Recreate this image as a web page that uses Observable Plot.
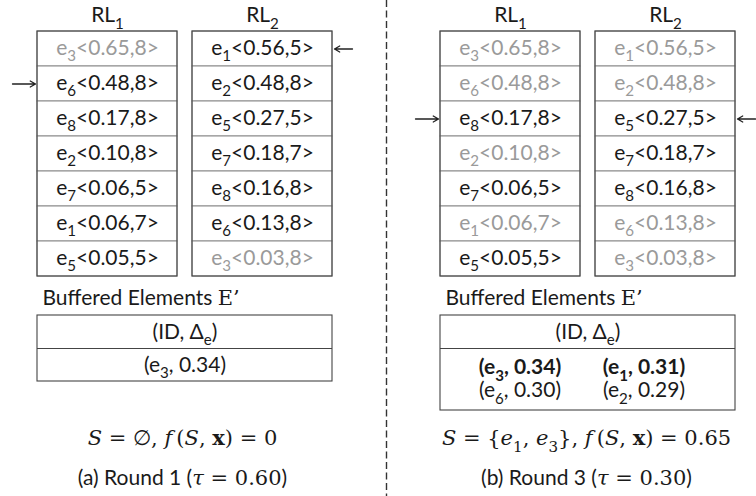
<!DOCTYPE html>
<html><head><meta charset="utf-8">
<script src="https://cdn.jsdelivr.net/npm/d3@7"></script>
<script src="https://cdn.jsdelivr.net/npm/@observablehq/plot@0.6"></script>
<style>body{margin:0;background:#fff}</style>
</head><body><div id="chart"></div>
<script>
// ---------- data ----------
const listNames = ["RL", "RL"];
const listSubs = ["1", "2"];
const rl1Ids = [3, 6, 8, 2, 7, 1, 5];
const rl1Scores = [0.65, 0.48, 0.17, 0.10, 0.06, 0.06, 0.05];
const rl1Attrs = [8, 8, 8, 8, 5, 7, 5];
const rl2Ids = [1, 2, 5, 7, 8, 6, 3];
const rl2Scores = [0.56, 0.48, 0.27, 0.18, 0.16, 0.13, 0.03];
const rl2Attrs = [5, 8, 5, 7, 8, 8, 8];
const roundLabels = ["(a) Round 1", "(b) Round 3"];
const taus = [0.60, 0.30];
const pointerRL1 = [1, 2];
const pointerRL2 = [0, 2];
const bufferIds = [[3], [3, 1, 6, 2]];
const bufferDeltas = [[0.34], [0.34, 0.31, 0.30, 0.29]];
const selectedIds = [[], [1, 3]];
const objectiveValues = [0, 0.65];
const bufferTitle = "Buffered Elements [m|E’]";
const bufferHeader = "(ID, Δ[s|e])";

// ---------- layout ----------
const W = 756, H = 496;
const panelOffset = [0, 403];
const colLeft = [37, 192], colW = 140;
const rowTop = 31, rowH = 35;
const headY = 15, divX = 386;
const titleY = 298, tableTop = 315, headH = 33;
const formulaY = 438, captionY = 478;
const panelCenter = [182, 586];
const f2 = d3.format(".2f");
const FONT = "Lato", MATH = "DejaVu Serif";
const FS = 21;
const GRAY = "#9a9a9a", INK = "#1a1a1a";

const lists = [
  {ids: rl1Ids, scores: rl1Scores, attrs: rl1Attrs, ptr: pointerRL1},
  {ids: rl2Ids, scores: rl2Scores, attrs: rl2Attrs, ptr: pointerRL2}
];

const cells = [], frames = [], heads = [], arrows = [];
roundLabels.forEach((_, ri) => {
  lists.forEach((L, li) => {
    const x1 = panelOffset[ri] + colLeft[li], x2 = x1 + colW;
    L.ids.forEach((id, k) => cells.push({
      x1, x2, y1: rowTop + k * rowH, y2: rowTop + (k + 1) * rowH,
      label: `e[s|${id}]<${f2(L.scores[k])},${L.attrs[k]}>`,
      gray: bufferIds[ri].includes(id)
    }));
    frames.push({x1, x2, y1: rowTop, y2: rowTop + L.ids.length * rowH});
    heads.push({x: (x1 + x2) / 2, label: `${listNames[li]}[s|${listSubs[li]}]`});
    const yc = rowTop + (L.ptr[ri] + 0.5) * rowH;
    if (li === 0) arrows.push({x1: x1 - 25, x2: x1 - 2, y: yc});
    else arrows.push({x1: x2 + 20, x2: x2 + 2, y: yc});
  });
});

// buffer tables
const tables = [], tableRules = [], bufItems = [], titles = [], formulas = [], captions = [];
roundLabels.forEach((lab, ri) => {
  const x1 = panelOffset[ri] + colLeft[0], x2 = panelOffset[ri] + colLeft[1] + colW;
  const n = bufferIds[ri].length;
  const rows = Math.ceil(n / 2);
  const y2 = rows === 1 ? tableTop + headH * 2 : tableTop + headH + 14 + rows * 24;
  tables.push({x1, x2, y1: tableTop, y2});
  tableRules.push({x1, x2, y: tableTop + headH});
  titles.push({x: x1 + 5, y: titleY, label: bufferTitle});
  bufItems.push({x: (x1 + x2) / 2, y: tableTop + headH / 2, label: bufferHeader, bold: false});
  bufferIds[ri].forEach((id, k) => {
    const row = Math.floor(k / 2), col = k % 2;
    const x = n === 1 ? (x1 + x2) / 2 : (x1 + x2) / 2 + (col === 0 ? -68 : 56);
    const y = n === 1 ? tableTop + headH * 1.5 : tableTop + headH + 7 + 12 + row * 23;
    bufItems.push({x, y, label: `(e[s|${id}], ${f2(bufferDeltas[ri][k])})`, bold: selectedIds[ri].includes(id)});
  });
  const S = selectedIds[ri].length === 0 ? "∅" :
    "{" + selectedIds[ri].map(id => `[i|e][s|${id}]`).join(", ") + "}";
  formulas.push({x: panelCenter[ri], y: formulaY,
    label: `[i|S] = ${S}, [i|f]\u2009([i|S], [b|x]) = ${objectiveValues[ri]}`});
  captions.push({x: panelCenter[ri], y: captionY,
    label: `${lab} ([mi|τ][m| = ${f2(taus[ri])}])`});
});

const plot = Plot.plot({
  width: W, height: H,
  margin: 0,
  x: {domain: [0, W], range: [0, W], axis: null},
  y: {domain: [0, H], range: [0, H], axis: null},
  marks: [
    Plot.ruleX([divX], {stroke: "#333", strokeWidth: 1.4, strokeDasharray: "7,3.5"}),
    Plot.rect(cells, {x1: "x1", x2: "x2", y1: "y1", y2: "y2", fill: "white", stroke: "#8a8a8a", strokeWidth: 1}),
    Plot.rect(frames, {x1: "x1", x2: "x2", y1: "y1", y2: "y2", fill: "none", stroke: "#444", strokeWidth: 1.1}),
    Plot.text(cells.filter(d => d.gray), {x: d => (d.x1 + d.x2) / 2, y: d => (d.y1 + d.y2) / 2 - 1, text: "label", fill: GRAY, fontSize: FS, fontFamily: FONT}),
    Plot.text(cells.filter(d => !d.gray), {x: d => (d.x1 + d.x2) / 2, y: d => (d.y1 + d.y2) / 2 - 1, text: "label", fill: INK, fontSize: FS, fontFamily: FONT}),
    Plot.text(heads, {x: "x", y: headY, text: "label", fill: INK, fontSize: FS, fontFamily: FONT}),
    Plot.arrow(arrows, {x1: "x1", x2: "x2", y1: "y", y2: "y", stroke: "#222", strokeWidth: 1.3, headLength: 7}),
    Plot.rect(tables, {x1: "x1", x2: "x2", y1: "y1", y2: "y2", fill: "none", stroke: "#444", strokeWidth: 1.1}),
    Plot.ruleY(tableRules, {x1: "x1", x2: "x2", y: "y", stroke: "#444", strokeWidth: 1.1}),
    Plot.text(titles, {x: "x", y: "y", text: "label", textAnchor: "start", fill: INK, fontSize: FS, fontFamily: FONT}),
    Plot.text(bufItems.filter(d => !d.bold), {x: "x", y: "y", text: "label", fill: INK, fontSize: FS, fontFamily: FONT}),
    Plot.text(bufItems.filter(d => d.bold), {x: "x", y: "y", text: "label", fill: INK, fontSize: FS, fontWeight: "bold", fontFamily: FONT}),
    Plot.text(formulas, {x: "x", y: "y", text: "label", fill: INK, fontSize: 21, fontFamily: MATH}),
    Plot.text(captions, {x: "x", y: "y", text: "label", fill: INK, fontSize: FS, fontFamily: FONT})
  ]
});

// rich text: [flags|content] with flags i=italic, b=bold, s=subscript, m=math font
function rich(svg) {
  svg.querySelectorAll("text").forEach(t => {
    const s = t.textContent;
    if (!/\[[a-z]+\|/.test(s)) return;
    const parts = [];
    const re = /\[([a-z]+)\|([^\]]*)\]/g;
    let last = 0, m;
    while ((m = re.exec(s))) {
      if (m.index > last) parts.push({f: "", t: s.slice(last, m.index)});
      parts.push({f: m[1], t: m[2]});
      last = re.lastIndex;
    }
    if (last < s.length) parts.push({f: "", t: s.slice(last)});
    t.textContent = "";
    let cur = 0;
    for (const p of parts) {
      const ts = document.createElementNS("http://www.w3.org/2000/svg", "tspan");
      const sub = p.f.includes("s");
      const r = sub ? 0.72 : 1;
      const target = sub ? 0.3 : 0;
      if (target !== cur) ts.setAttribute("dy", ((target - cur) / r).toFixed(3) + "em");
      cur = target;
      if (sub) ts.setAttribute("font-size", (r * 100) + "%");
      if (p.f.includes("i")) ts.setAttribute("font-style", "italic");
      if (p.f.includes("b")) ts.setAttribute("font-weight", "bold");
      if (p.f.includes("m")) ts.setAttribute("font-family", MATH);
      ts.textContent = p.t;
      t.appendChild(ts);
    }
  });
}
rich(plot);
document.getElementById("chart").appendChild(plot);
</script>
</body></html>
